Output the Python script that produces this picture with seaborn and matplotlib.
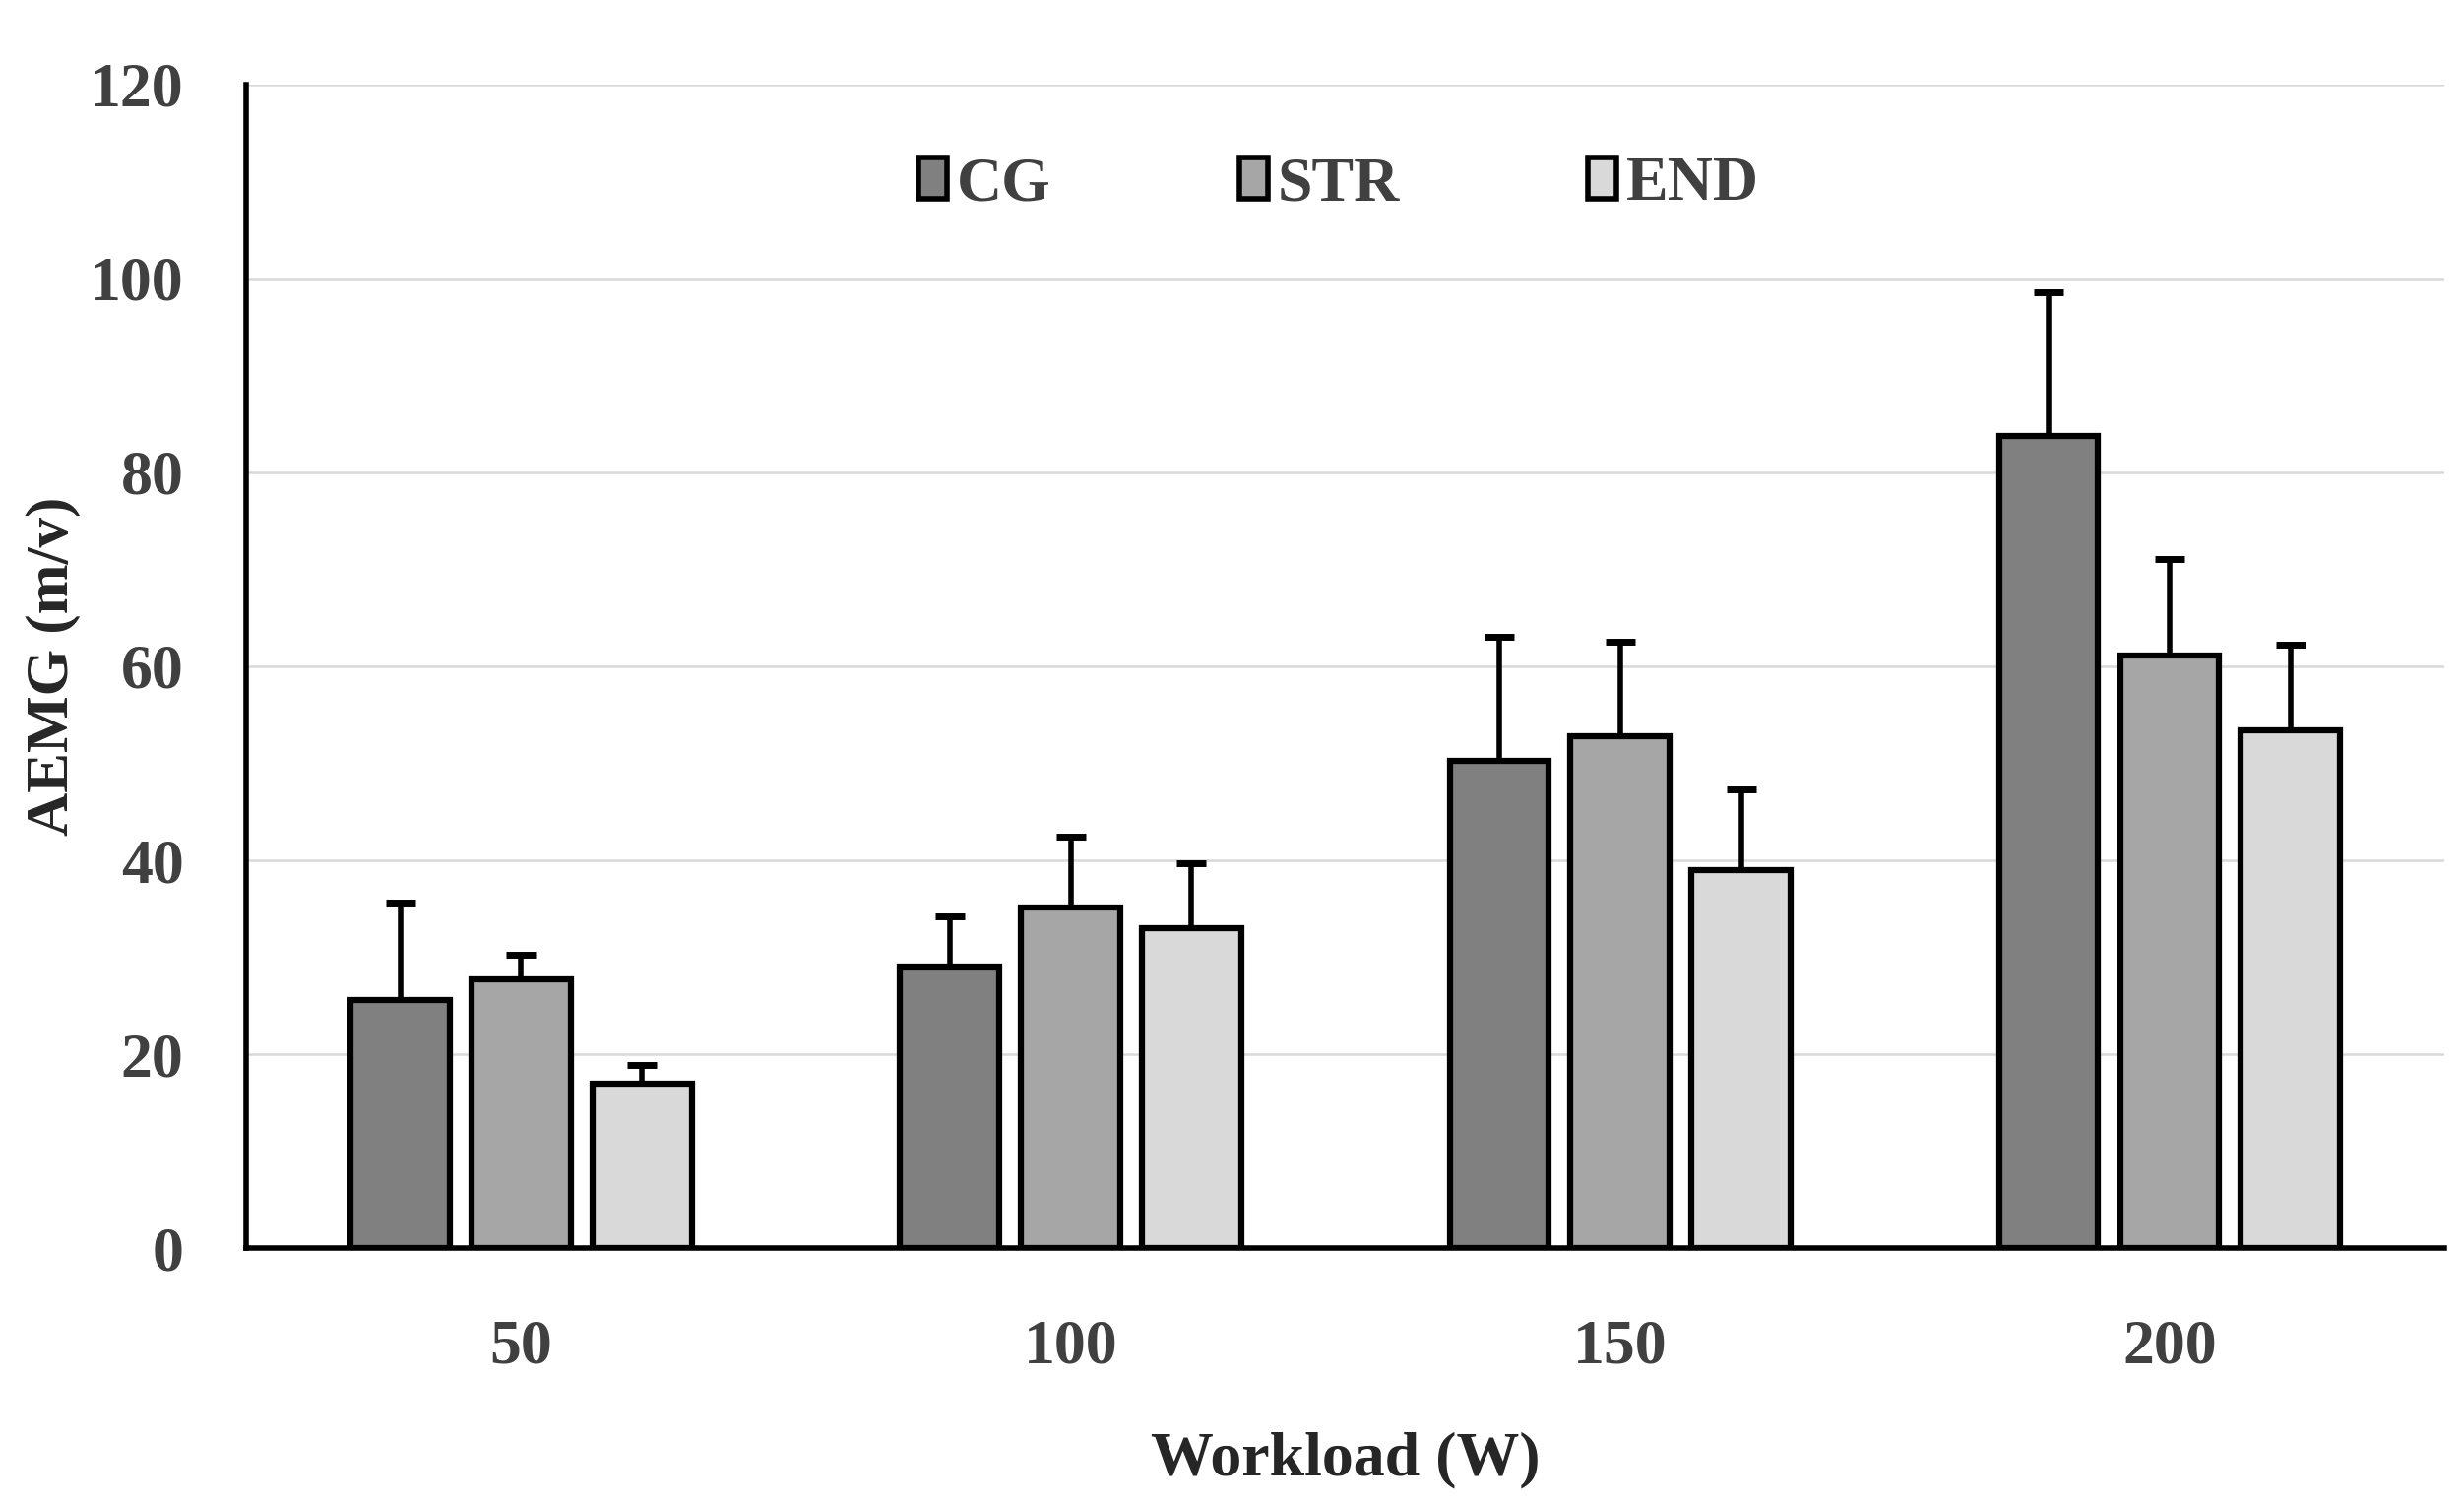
import numpy as np
import pandas as pd
import matplotlib
matplotlib.use("Agg")
import matplotlib.pyplot as plt
import seaborn as sns

# values
workloads = ["50", "100", "150", "200"]
groups = ["CG", "STR", "END"]
cg_mean = [25.6, 29.0, 50.2, 83.7]
str_mean = [27.7, 35.1, 52.8, 61.1]
end_mean = [17.0, 33.0, 39.0, 53.4]
cg_sd = [10.0, 5.2, 12.8, 14.8]
str_sd = [2.6, 7.3, 9.7, 10.0]
end_sd = [1.9, 6.7, 8.3, 8.8]

colors = {"CG": "#808080", "STR": "#a6a6a6", "END": "#d9d9d9"}

means = {"CG": cg_mean, "STR": str_mean, "END": end_mean}
sds = {"CG": cg_sd, "STR": str_sd, "END": end_sd}

rows = []
for g in groups:
    for w, m in zip(workloads, means[g]):
        rows.append({"Workload": w, "Group": g, "AEMG": m})
df = pd.DataFrame(rows)

sns.set_style("white")
plt.rcParams["font.family"] = ["Liberation Serif", "DejaVu Serif"]
plt.rcParams["font.weight"] = "bold"

fig = plt.figure(figsize=(25.03, 15.28), dpi=100)
ax = fig.add_axes([0.100, 0.170, 0.892, 0.774])

sns.barplot(data=df, x="Workload", y="AEMG", hue="Group", order=workloads,
            hue_order=groups, palette=colors, width=0.66, gap=0.18,
            edgecolor="black", linewidth=4.5, errorbar=None, ax=ax, zorder=3)

# upward-only error bars
for cont, g in zip(ax.containers, groups):
    xs = [p.get_x() + p.get_width() / 2 for p in cont.patches]
    hs = [p.get_height() for p in cont.patches]
    ax.errorbar(xs, hs, yerr=[np.zeros(len(hs)), sds[g]], fmt="none",
                ecolor="black", elinewidth=4, capsize=11, capthick=5, zorder=2)

ax.set_ylim(0, 120)
ax.set_xlim(-0.5, 3.5)
ax.set_yticks(range(0, 121, 20))
ax.yaxis.grid(True, color="#d9d9d9", linewidth=1.8, zorder=0)
ax.xaxis.grid(False)
ax.set_axisbelow(True)

for s in ["top", "right"]:
    ax.spines[s].set_visible(False)
ax.spines["left"].set_linewidth(4)
ax.spines["bottom"].set_linewidth(4)
ax.spines["left"].set_color("black")
ax.spines["bottom"].set_color("black")

ax.tick_params(axis="y", direction="out", length=8, width=6, color="black",
               pad=38, labelsize=46, labelcolor="#404040")
ax.tick_params(axis="x", length=0, pad=52, labelsize=46, labelcolor="#404040")

ax.set_xlabel("Workload (W)", fontsize=46, fontweight="bold", labelpad=40)
ax.set_ylabel("AEMG (m/v)", fontsize=44, fontweight="bold", labelpad=6)

handles, labels = ax.get_legend_handles_labels()
leg = ax.legend(handles, labels, loc="center", bbox_to_anchor=(0.497, 0.913),
                ncol=3, frameon=False, fontsize=46, columnspacing=3.0,
                handlelength=0.45, handleheight=0.65, handletextpad=0.15)
for t in leg.get_texts():
    t.set_color("#404040")
for h in leg.legend_handles:
    h.set_linewidth(4)
    h.set_edgecolor("black")

fig.savefig("out.png", dpi=100)
